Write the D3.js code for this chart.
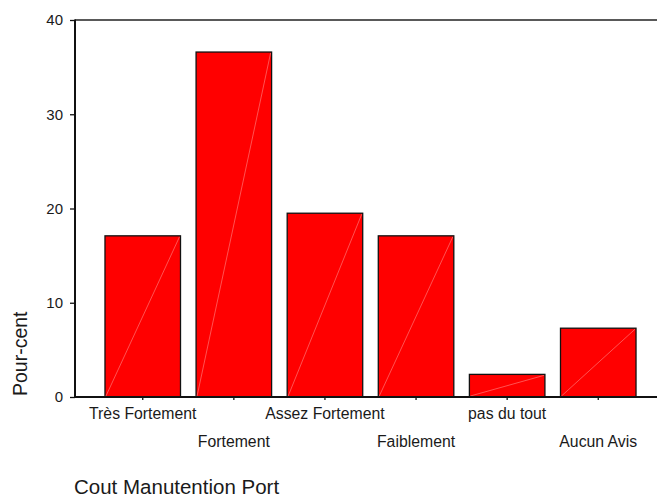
<!DOCTYPE html>
<html>
<head>
<meta charset="utf-8">
<script src="https://cdn.jsdelivr.net/npm/d3@7"></script>
<style>
  html, body { margin: 0; padding: 0; background: #fff; }
  svg { display: block; }
  text { font-family: "Liberation Sans", Arial, Helvetica, sans-serif; fill: #1a1a1a; }
</style>
</head>
<body>
<svg id="chart" width="657" height="499"></svg>
<script>
const categories = ["Très Fortement", "Fortement", "Assez Fortement", "Faiblement", "pas du tout", "Aucun Avis"];
const values = [17.1, 36.6, 19.5, 17.1, 2.4, 7.3];
const yTicks = [0, 10, 20, 30, 40];
const yLabel = "Pour-cent";
const xTitle = "Cout Manutention Port";

(function () {
const svg = d3.select("#chart");
const mLeft = 75, mTop = 20, mBottom = 397, mRight = 657;

const x = d3.scaleBand().domain(categories).range([89.4, 651.6]).paddingInner(0.171).paddingOuter(0.171);
const y = d3.scaleLinear().domain([0, 40]).range([mBottom, mTop]);

// bars
const g = svg.append("g");
g.selectAll("rect.bar").data(values).join("rect")
  .attr("class", "bar")
  .attr("x", (d, i) => x(categories[i]))
  .attr("y", d => y(d))
  .attr("width", x.bandwidth())
  .attr("height", d => y(0) - y(d))
  .attr("fill", "#ff0000")
  .attr("stroke", "#111")
  .attr("stroke-width", 1.3);

g.selectAll("line.diag").data(values).join("line")
  .attr("class", "diag")
  .attr("x1", (d, i) => x(categories[i]) + 1)
  .attr("y1", y(0) - 1)
  .attr("x2", (d, i) => x(categories[i]) + x.bandwidth() - 1)
  .attr("y2", d => y(d) + 1)
  .attr("stroke", "#ff8a8a")
  .attr("stroke-width", 0.6);

// top frame line
svg.append("line").attr("x1", mLeft).attr("x2", mRight).attr("y1", mTop).attr("y2", mTop)
  .attr("stroke", "#222").attr("stroke-width", 1.5);

// y axis
const yAxis = d3.axisLeft(y).tickValues(yTicks).tickSize(5).tickPadding(7).tickFormat(d3.format("d"));
const ya = svg.append("g").attr("transform", `translate(${mLeft},0)`).call(yAxis);
ya.select(".domain").remove();
ya.selectAll(".tick line").attr("stroke", "#111").attr("stroke-width", 1.3);
ya.selectAll(".tick text").style("font-size", "15px").attr("fill", "#1a1a1a")
  .style("font-family", "'Liberation Sans', Arial, Helvetica, sans-serif");
svg.append("line").attr("x1", mLeft).attr("x2", mLeft).attr("y1", mTop - 0.5).attr("y2", mBottom + 1)
  .attr("stroke", "#111").attr("stroke-width", 2);

// x axis
const xAxis = d3.axisBottom(x).tickSize(3).tickFormat("");
const xa = svg.append("g").attr("transform", `translate(0,${mBottom})`).call(xAxis);
xa.select(".domain").remove();
xa.selectAll(".tick line").attr("stroke", "#111").attr("stroke-width", 1.3);
svg.append("line").attr("x1", mLeft - 1).attr("x2", mRight).attr("y1", mBottom).attr("y2", mBottom)
  .attr("stroke", "#111").attr("stroke-width", 2);

// category labels, staggered
svg.selectAll("text.cat").data(categories).join("text")
  .attr("class", "cat")
  .attr("x", d => x(d) + x.bandwidth() / 2)
  .attr("y", (d, i) => i % 2 === 0 ? 419 : 446.5)
  .attr("text-anchor", "middle")
  .style("font-size", "15.8px")
  .text(d => d);

// y label
svg.append("text")
  .attr("transform", `translate(27,396) rotate(-90)`)
  .attr("text-anchor", "start")
  .style("font-size", "19.5px")
  .text(yLabel);

// x title
svg.append("text")
  .attr("x", 74).attr("y", 494)
  .style("font-size", "20.5px")
  .text(xTitle);
})();
</script>
</body>
</html>
